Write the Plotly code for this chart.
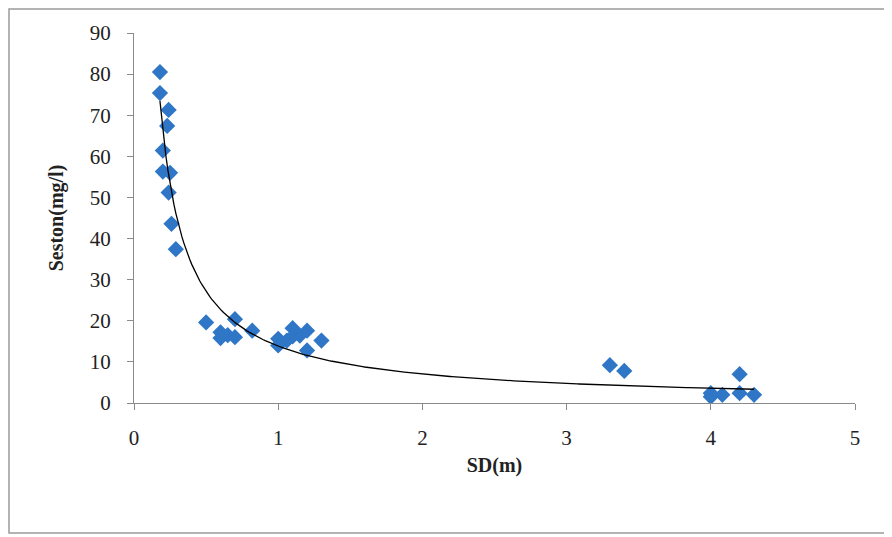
import numpy as np
import plotly.graph_objects as go

# Secchi depth (m) and seston (mg/l)
sd = [0.18, 0.18, 0.24, 0.23, 0.20, 0.20, 0.25, 0.24, 0.26, 0.29,
      0.50, 0.60, 0.60, 0.65, 0.70, 0.70, 0.82,
      1.00, 1.00, 1.06, 1.10, 1.10, 1.15, 1.20, 1.20, 1.30,
      3.30, 3.40,
      4.00, 4.00, 4.08, 4.20, 4.20, 4.30]
seston = [80.5, 75.4, 71.3, 67.4, 61.4, 56.3, 56.0, 51.2, 43.6, 37.4,
          19.6, 17.2, 15.8, 16.5, 20.4, 16.0, 17.6,
          15.6, 14.0, 15.2, 18.2, 16.2, 16.4, 17.6, 12.8, 15.2,
          9.2, 7.8,
          1.5, 2.4, 2.0, 2.4, 7.0, 2.0]

x_ticks = [0, 1, 2, 3, 4, 5]
y_ticks = [0, 10, 20, 30, 40, 50, 60, 70, 80, 90]

# power trend line (least squares on log-log, as in a spreadsheet power trendline)
b, ln_a = np.polyfit(np.log(sd), np.log(seston), 1)
xf = np.linspace(min(sd), max(sd), 300)
yf = np.exp(ln_a) * xf ** b

fig = go.Figure()
fig.add_trace(go.Scatter(
    x=sd, y=seston, mode="markers",
    marker=dict(symbol="diamond", size=12.5, color="#2f77c6", line=dict(width=0)),
    showlegend=False))
fig.add_trace(go.Scatter(
    x=xf, y=yf, mode="lines", line=dict(color="black", width=1.3),
    showlegend=False, hoverinfo="skip"))

# page body has an 8px margin, so the figure is a little smaller
W, H = 884, 529
L, R, T, B = 126, 37, 25, 134
pw, ph = W - L - R, H - T - B

def px(xp):
    return (xp - L) / pw

def py(yp):
    return (H - B - yp) / ph

axis_common = dict(showgrid=False, zeroline=False, showline=True, linecolor="#8a8a8a",
                   linewidth=1.2, ticks="outside", ticklen=6, tickcolor="#8a8a8a",
                   tickfont=dict(size=21))

fig.update_layout(
    width=W, height=H,
    margin=dict(l=L, r=R, t=T, b=B),
    paper_bgcolor="white", plot_bgcolor="white",
    font=dict(family="Liberation Serif, Times New Roman, serif", size=20, color="#222"),
    xaxis=dict(range=[0, 5], tickvals=x_ticks, ticktext=[str(v) for v in x_ticks],
               ticklabelstandoff=10,
               title=dict(text="<b>SD(m)</b>", font=dict(size=20), standoff=8),
               **axis_common),
    yaxis=dict(range=[0, 90], tickvals=y_ticks, ticktext=[str(v) for v in y_ticks],
               ticklabelstandoff=12,
               title=dict(text="<b>Seston(mg/l)</b>", font=dict(size=20), standoff=20),
               **axis_common),
    shapes=[dict(type="rect", xref="paper", yref="paper",
                 x0=px(1), x1=px(W - 4), y0=py(H - 4), y1=py(1),
                 line=dict(color="#9a9a9a", width=1.5), fillcolor="rgba(0,0,0,0)",
                 layer="below")],
)

fig.write_html("out.html")
